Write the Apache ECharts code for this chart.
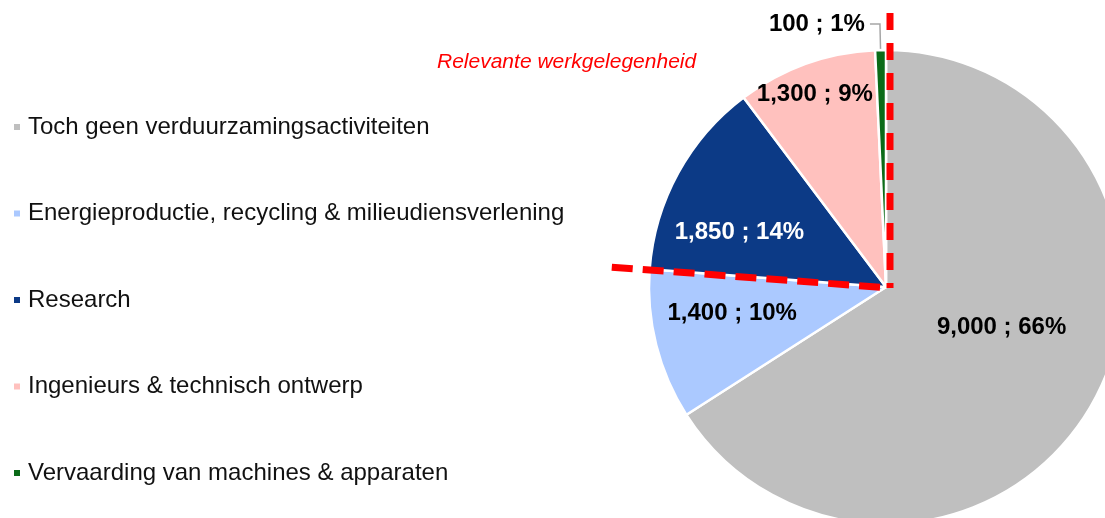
<!DOCTYPE html>
<html>
<head>
<meta charset="utf-8">
<script src="https://cdn.jsdelivr.net/npm/echarts@6/dist/echarts.min.js"></script>
<style>
  html, body { margin: 0; padding: 0; background: #ffffff; }
  #chart { width: 1105px; height: 518px; }
</style>
</head>
<body>
<div id="chart"></div>
<script>
// Employment split by activity (jobs ; share of total)
const categories = [
  'Toch geen verduurzamingsactiviteiten',
  'Energieproductie, recycling & milieudiensverlening',
  'Research',
  'Ingenieurs & technisch ontwerp',
  'Vervaarding van machines & apparaten'
];
const jobs = [9000, 1400, 1850, 1300, 100];
const shares = [66, 10, 14, 9, 1];
const annotationText = 'Relevante werkgelegenheid';

// Styling
const sliceColors = ['#BFBFBF', '#ABC9FF', '#0C3A86', '#FFC1BE', '#0B6B18'];
const labelColors = ['#000000', '#000000', '#FFFFFF', '#000000', '#000000'];
const labelShift = [[9, -18], [-36, -3], [-40, 4], [-30, -78], null];
const PIE_CENTER = [886, 287];
const PIE_R = 237;
const FONT = '"Liberation Sans", Arial, sans-serif';

const total = jobs.reduce((a, b) => a + b, 0);

// Dashed separators along the boundary of the "relevant" slices
// (start of the pie at 12 o'clock and the end of the second slice).
const corner = [PIE_CENTER[0] + 4, PIE_CENTER[1] + 1];
function rayEnd(frac, len) {
  const a = frac * 2 * Math.PI; // clockwise from top
  return [corner[0] + Math.sin(a) * len, corner[1] - Math.cos(a) * len];
}
const splitFrac = (jobs[0] + jobs[1]) / total;
const topEnd = rayEnd(0, 275);
const sideEnd = rayEnd(splitFrac, 279);

const chart = echarts.init(document.getElementById('chart'), null, { renderer: 'canvas' });

chart.setOption({
  animation: false,
  backgroundColor: '#ffffff',
  legend: {
    orient: 'vertical',
    left: 7,
    top: 108,
    icon: 'rect',
    itemWidth: 8,
    itemHeight: 8,
    itemGap: 58.5,
    selectedMode: false,
    textStyle: {
      fontFamily: FONT,
      fontSize: 24,
      lineHeight: 28,
      color: '#111111',
      padding: [0, 0, 0, 2]
    },
    data: categories
  },
  graphic: [
    {
      type: 'line',
      z: 100,
      shape: { x1: topEnd[0], y1: topEnd[1], x2: corner[0], y2: corner[1] },
      style: { stroke: '#FF0000', lineWidth: 7, lineDash: [17, 13] }
    },
    {
      type: 'line',
      z: 100,
      shape: { x1: sideEnd[0], y1: sideEnd[1], x2: corner[0], y2: corner[1] },
      style: { stroke: '#FF0000', lineWidth: 7, lineDash: [21, 10] }
    },
    {
      type: 'text',
      z: 100,
      left: 437,
      top: 52,
      style: {
        text: annotationText,
        fill: '#FF0000',
        fontFamily: FONT,
        fontStyle: 'italic',
        fontSize: 21
      }
    }
  ],
  series: [
    {
      type: 'pie',
      center: PIE_CENTER,
      radius: PIE_R,
      startAngle: 90,
      clockwise: true,
      avoidLabelOverlap: false,
      emphasis: { disabled: true },
      itemStyle: { borderColor: '#ffffff', borderWidth: 2.5 },
      label: {
        show: true,
        position: 'inside',
        fontFamily: FONT,
        fontSize: 24,
        fontWeight: 'bold',
        formatter: p => p.value.toLocaleString('en-US') + ' ; ' + shares[p.dataIndex] + '%'
      },
      labelLine: { show: false },
      labelLayout: p => {
        const s = labelShift[p.dataIndex];
        return s ? { dx: s[0], dy: s[1] } : {};
      },
      data: categories.map((name, i) => {
        const item = {
          name: name,
          value: jobs[i],
          itemStyle: { color: sliceColors[i] },
          label: { color: labelColors[i] }
        };
        if (i === categories.length - 1) {
          item.label = { color: labelColors[i], position: 'outside', distanceToLabelLine: 5 };
          item.labelLine = {
            show: true,
            length: 26,
            length2: 10,
            lineStyle: { color: '#A6A6A6', width: 1.5 }
          };
        }
        return item;
      })
    }
  ]
});
</script>
</body>
</html>
